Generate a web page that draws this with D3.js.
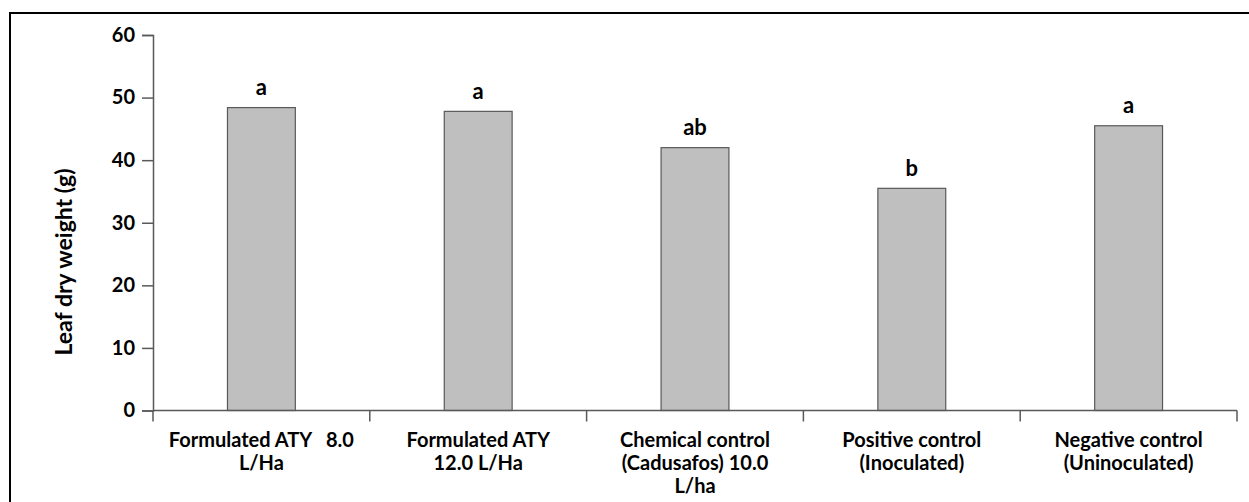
<!DOCTYPE html>
<html>
<head>
<meta charset="utf-8">
<script src="https://cdn.jsdelivr.net/npm/d3@7"></script>
<style>
  body { margin: 0; background: #fff; }
  text { font-family: Lato, "Open Sans", sans-serif; font-weight: bold; fill: #000; }
</style>
</head>
<body>
<script>
let width = 1249, height = 502;

// data
let treatments = [
    ["Formulated ATY\u00a0\u00a0\u00a08.0", "L/Ha"],
    ["Formulated ATY", "12.0 L/Ha"],
    ["Chemical control", "(Cadusafos) 10.0", "L/ha"],
    ["Positive control", "(Inoculated)"],
    ["Negative control", "(Uninoculated)"]
];
let leafWeight = [48.4, 47.8, 42.0, 35.5, 45.5];
let letters = ["a", "a", "ab", "b", "a"];
let yTicks = [0, 10, 20, 30, 40, 50, 60];

let svg = d3.select("body").append("svg")
    .attr("width", width)
    .attr("height", height);

// outer frame (runs off the right and bottom edge)
svg.append("rect")
    .attr("x", 10).attr("y", 13)
    .attr("width", 1260).attr("height", 520)
    .attr("fill", "none")
    .attr("stroke", "#000")
    .attr("stroke-width", 2);

let x = d3.scaleBand()
    .domain(d3.range(treatments.length))
    .range([153, 1237])
    .paddingInner(0.687)
    .paddingOuter(0.3435);

let y = d3.scaleLinear()
    .domain([0, 60])
    .range([410.5, 35]);

// bars
svg.selectAll("rect.bar").data(leafWeight)
    .enter().append("rect")
    .attr("class", "bar")
    .attr("x", (d, i) => x(i))
    .attr("y", d => y(d))
    .attr("width", x.bandwidth())
    .attr("height", d => y(0) - y(d))
    .attr("fill", "#bfbfbf")
    .attr("stroke", "#595959")
    .attr("stroke-width", 1.2);

// significance letters
svg.selectAll("text.letter").data(letters)
    .enter().append("text")
    .attr("class", "letter")
    .attr("x", (d, i) => x(i) + x.bandwidth() / 2)
    .attr("y", (d, i) => y(leafWeight[i]) - 12.5)
    .attr("text-anchor", "middle")
    .style("font-size", "22px")
    .text(d => d);

// y axis
let yAxis = svg.append("g")
    .attr("transform", "translate(153,0)")
    .call(d3.axisLeft(y).tickValues(yTicks).tickSize(11).tickPadding(7));
yAxis.selectAll("path, line").attr("stroke", "#595959").attr("stroke-width", 1.5);
yAxis.selectAll("text")
    .style("font-size", "20px")
    .style("font-family", "Lato, sans-serif")
    .style("font-weight", "bold")
    .attr("fill", "#000");

// x axis: category boundaries as ticks
let step = x.step();
let bounds = d3.range(treatments.length + 1).map(i => 153 + i * step);
svg.append("line")
    .attr("x1", 153).attr("x2", bounds[bounds.length - 1])
    .attr("y1", y(0)).attr("y2", y(0))
    .attr("stroke", "#595959").attr("stroke-width", 1.5);
svg.selectAll("line.xtick").data(bounds)
    .enter().append("line")
    .attr("class", "xtick")
    .attr("x1", d => d).attr("x2", d => d)
    .attr("y1", y(0)).attr("y2", y(0) + 11)
    .attr("stroke", "#595959").attr("stroke-width", 1.5);

// x labels
let xl = svg.selectAll("text.xlab").data(treatments)
    .enter().append("text")
    .attr("class", "xlab")
    .attr("text-anchor", "middle")
    .style("font-size", "20px");
xl.selectAll("tspan").data((d, i) => d.map(t => ({t: t, i: i})))
    .enter().append("tspan")
    .attr("x", d => x(d.i) + x.bandwidth() / 2)
    .attr("y", (d, j) => 447 + j * 23)
    .text(d => d.t);

// y title
svg.append("text")
    .attr("transform", "translate(72,262) rotate(-90)")
    .attr("text-anchor", "middle")
    .style("font-size", "23px")
    .text("Leaf dry weight (g)");
</script>
</body>
</html>
